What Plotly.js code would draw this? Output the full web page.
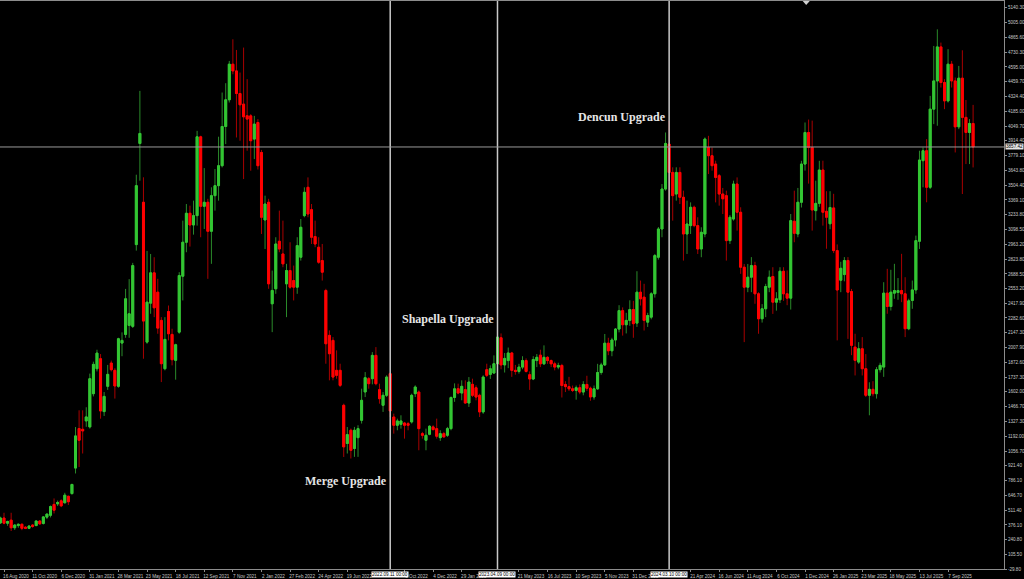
<!DOCTYPE html>
<html><head><meta charset="utf-8">
<script src="https://cdn.plot.ly/plotly-3.0.1.min.js"></script>
<style>html,body{margin:0;padding:0;background:#000;overflow:hidden}#chart{width:1024px;height:579px}</style>
</head><body><div id="chart"></div>
<script>
// Weekly ETH/USD candles, first week starting 2020-08-09
const firstWeek = '2020-08-09';
const openP = [395,440,392,420,350,370,382,355,345,375,370,412,390,448,465,565,570,598,580,640,
665,900,1264,1257,1334,1279,1585,1815,1907,1420,1653,1867,1800,1653,2051,2131,2214,2205,2958,3890,3348,
2060,2419,2698,2520,2260,1815,2342,2131,1892,2152,2667,2980,3247,3139,3225,3951,3311,3348,3081,3409,
3501,3685,4046,4292,4620,4558,4350,4252,4145,4144,3930,4083,3807,3185,3348,2413,2551,2989,2872,2597,
2719,2627,2566,2842,3225,3486,3280,3032,2934,2811,2535,2122,2076,1800,1800,1478,1126,1248,1080,1180,
1340,1601,1723,1723,1938,1622,1478,1570,1769,1370,1294,1303,1315,1309,1325,1585,1600,1217,1156,1211,
1279,1263,1180,1217,1202,1263,1550,1631,1591,1622,1499,1671,1640,1570,1417,1806,1763,1775,1861,2100,
1850,1890,1960,1800,1790,1830,1890,1760,1720,1890,1940,1860,1920,1890,1860,1830,1845,1670,1650,1630,
1615,1640,1600,1670,1635,1555,1630,1780,1850,2050,1980,2080,2180,2350,2220,2260,2360,2235,2520,2474,
2244,2290,2505,2842,3102,3470,3884,3623,3424,3623,3394,3056,3133,3302,3133,2918,3056,3853,3777,3700,
3593,3424,3409,2995,3194,3516,3256,2750,2566,2658,2765,2505,2275,2367,2566,2664,2428,2450,2713,2505,
2465,3173,3056,3348,3700,3991,3853,3271,3338,3645,3265,3150,3296,2903,2630,2682,2812,2526,2014,1876,
1999,1815,1570,1625,1585,1806,1830,2511,2388,2511,2517,2535,2505,2183,2443,2541,2989,3731,3823,3486,
4206,4466,4779,4451,4282,4620,4466,4043,4491,4130,3991,4074];
const highP = [452,488,415,488,382,390,390,365,372,382,420,420,458,480,555,620,600,612,672,645,
755,1278,1432,1432,1460,1770,1880,1990,1950,1600,1850,1890,1820,2100,2150,2550,2640,2790,3602,4374,3578,
2900,2872,2842,2643,2290,2290,2397,2183,2045,2704,3179,3332,3317,3363,4006,3961,3663,3380,3486,3654,
3952,4359,4445,4650,4849,4751,4543,4773,4482,4160,4144,4114,3830,3409,3380,2719,3026,3271,3179,2781,
2980,2765,3026,3194,3486,3577,3332,3179,3026,2964,2551,2168,2106,1984,1861,1493,1278,1264,1279,1294,
1631,1784,1738,1968,2014,1677,1600,1754,1784,1401,1355,1386,1325,1325,1585,1662,1615,1233,1263,1294,
1294,1355,1248,1233,1279,1560,1680,1677,1708,1708,1738,1723,1662,1585,1754,1861,1846,1938,2122,2140,
1960,2010,1970,1850,1860,1930,1910,1790,1930,1950,1990,2030,1930,1900,1880,1870,1860,1700,1740,1660,
1660,1670,1700,1750,1650,1660,1860,1870,2135,2100,2100,2190,2400,2380,2330,2445,2440,2713,2627,2597,
2330,2520,2872,3120,3516,3991,4098,3670,3670,3670,3455,3363,3347,3317,3210,3118,3945,3960,3853,3731,
3608,3480,3455,3230,3547,3577,3302,2780,2780,2843,2800,2520,2410,2597,2720,2750,2520,2750,2750,2720,
3240,3455,3480,3730,4083,4110,4100,3547,3730,3731,3450,3450,3426,2960,2800,2843,2843,2550,2137,2060,
2106,1950,1690,1700,1830,1870,2612,2735,2726,2781,2650,2873,2658,2460,2627,3041,3823,3853,3930,4328,
4788,4941,4819,4482,4758,4650,4497,4604,4748,4290,4114,4245];
const lowP = [385,382,368,320,330,350,328,338,338,350,365,378,380,430,445,482,550,540,575,560,
655,850,910,1034,1280,1264,1560,1790,1355,1380,1620,1790,1540,1640,1930,2100,2100,2190,2903,3547,1907,
2045,2321,2290,2137,1692,1800,2076,1846,1714,2137,2444,2888,2940,3050,3133,3026,3102,2643,2781,3271,
3363,3669,3884,4267,4527,3945,3915,3562,3823,3639,3746,3650,3056,2918,2551,2152,2505,2888,2750,2290,
2551,2444,2505,2811,3210,3210,2964,2934,2781,2627,1861,1708,1708,1723,1646,1002,1034,988,1003,1003,
1310,1554,1631,1671,1662,1493,1417,1554,1370,1217,1248,1263,1171,1248,1310,1554,1064,1171,1064,1202,
1248,1171,1150,1180,1187,1248,1510,1580,1524,1493,1463,1554,1524,1370,1400,1738,1721,1769,1815,1810,
1780,1820,1740,1760,1770,1810,1780,1620,1710,1830,1830,1850,1860,1830,1800,1810,1550,1600,1610,1600,
1530,1580,1570,1610,1520,1530,1620,1760,1840,1940,1930,2020,2150,2120,2140,2210,2100,2200,2397,2167,
2200,2270,2470,2820,3026,3455,3179,3179,3363,3332,2811,2872,3056,3118,2872,2842,3026,3608,3639,3347,
3317,3240,2811,2964,3179,3087,2689,2060,2520,2520,2413,2137,2240,2290,2520,2320,2350,2420,2440,2400,
2360,2980,3026,3300,3640,3520,3087,3180,3306,3133,2920,3100,2880,2076,2520,2620,2090,1940,1753,1860,
1753,1554,1386,1560,1540,1780,1740,2321,2351,2459,2450,2428,2106,2170,2367,2505,2918,3486,3348,3470,
4068,4053,4405,4206,4267,4405,3807,4022,3424,3700,3700,3669];
const closeP = [440,392,408,350,375,382,345,345,366,362,412,386,450,476,545,512,583,552,650,590,
749,1196,1156,1242,1371,1723,1855,1959,1426,1560,1763,1806,1656,2091,2076,2459,2321,2765,3501,3982,
2254,2428,2698,2376,2189,1861,2085,2137,1898,2036,2673,2980,3247,3139,3225,3951,3311,3348,3081,3409,
3501,3685,4046,4292,4620,4558,4350,4246,4135,4114,3915,4068,3685,3210,3332,2597,2536,2964,2918,2781,
2719,2566,2566,2949,3118,3440,3240,3026,2964,2796,2704,2045,1953,1738,1754,1662,1095,1208,1064,1248,
1263,1524,1732,1677,1938,1677,1539,1570,1738,1426,1294,1334,1334,1294,1294,1570,1646,1263,1202,1202,
1285,1254,1193,1217,1187,1263,1550,1630,1591,1653,1499,1692,1570,1554,1417,1738,1754,1815,1861,2106,
1850,1910,1960,1800,1790,1830,1890,1790,1720,1900,1920,1860,1920,1890,1860,1830,1845,1660,1650,1630,
1615,1640,1600,1670,1635,1555,1630,1780,1850,2050,1980,2080,2180,2350,2220,2260,2360,2230,2520,2459,
2260,2305,2505,2857,3102,3470,3890,3623,3409,3623,3394,3056,3148,3302,3133,2918,3072,3930,3777,3685,
3577,3424,3380,2995,3210,3516,3256,2750,2566,2658,2765,2505,2275,2367,2572,2658,2428,2459,2713,2505,
2465,3179,3062,3348,3700,3991,3853,3277,3338,3645,3256,3210,3300,2903,2540,2740,2812,2520,2030,1892,
1999,1815,1570,1625,1585,1806,1846,2511,2388,2520,2535,2535,2505,2183,2440,2541,2995,3737,3823,3486,
4206,4466,4779,4451,4282,4620,4466,4043,4491,4130,3991,4074,3857.42];
const yTickVals = [5140.30,5005.00,4865.60,4730.30,4595.00,4459.70,4324.40,4185.00,4049.70,3914.40,
3779.10,3643.80,3504.40,3369.10,3233.80,3098.50,2963.20,2823.80,2688.50,2553.20,2417.90,2282.60,
2147.30,2007.90,1872.60,1737.30,1602.00,1466.70,1327.30,1192.00,1056.70,921.40,786.10,646.70,
511.40,376.10,240.80,105.50,-29.80];
const xTickDates = ['2020-08-16','2020-10-11','2020-12-06','2021-01-31','2021-03-28','2021-05-23',
'2021-07-18','2021-09-12','2021-11-07','2022-01-02','2022-02-27','2022-04-24','2022-06-19',
'2022-10-09','2022-12-04','2023-01-29','2023-05-21','2023-07-16','2023-09-10','2023-11-05',
'2023-12-31','2024-04-21','2024-06-16','2024-08-11','2024-10-06','2024-12-01','2025-01-26',
'2025-03-23','2025-05-18','2025-07-13','2025-09-07'];
const xTickLabels = ['16 Aug 2020','11 Oct 2020','6 Dec 2020','31 Jan 2021','28 Mar 2021','23 May 2021',
'18 Jul 2021','12 Sep 2021','7 Nov 2021','2 Jan 2022','27 Feb 2022','24 Apr 2022','19 Jun 2022',
'9 Oct 2022','4 Dec 2022','29 Jan 2023','21 May 2023','16 Jul 2023','10 Sep 2023','5 Nov 2023',
'31 Dec 2023','21 Apr 2024','16 Jun 2024','11 Aug 2024','6 Oct 2024','1 Dec 2024','26 Jan 2025',
'23 Mar 2025','18 May 2025','13 Jul 2025','7 Sep 2025'];
const eventDates = ['2022-09-11','2023-04-09','2024-03-10'];
const eventNames = ['Merge Upgrade','Shapella Upgrade','Dencun Upgrade'];
const eventStamps = ['2022.09.11 00:00','2023.04.09 00:00','2024.03.10 00:00'];

const n = Math.min(openP.length, highP.length, lowP.length, closeP.length);
const DAY = 86400000, WEEK = 7*DAY;
const t0 = Date.parse(firstWeek + 'T00:00:00Z');
const dates = [];
for (let i = 0; i < n; i++) dates.push(new Date(t0 + i*WEEK).toISOString().slice(0,10));
const o = openP.slice(0,n), h = highP.slice(0,n), l = lowP.slice(0,n), c = closeP.slice(0,n);
const bodyHi = o.map((v,i)=>Math.max(v,c[i]));
const bodyLo = o.map((v,i)=>Math.min(v,c[i]));
const lastClose = c[n-1];

const pxPerWeek = 3.576, plotW = 1004;
const ref = Date.parse('2020-08-16T00:00:00Z');
const xr0 = ref - (4/pxPerWeek)*WEEK;
const xr1 = xr0 + (plotW/pxPerWeek)*WEEK;

const wicks = {type:'candlestick', x:dates, open:o, high:h, low:l, close:c, whiskerwidth:0, hoverinfo:'skip',
  increasing:{line:{color:'#2a8a2a', width:1}, fillcolor:'#2a8a2a'},
  decreasing:{line:{color:'#a80000', width:1}, fillcolor:'#a80000'}};
const bodies = {type:'candlestick', x:dates, open:o, high:bodyHi, low:bodyLo, close:c, whiskerwidth:0, hoverinfo:'skip',
  increasing:{line:{color:'#33c633', width:1}, fillcolor:'#33c633'},
  decreasing:{line:{color:'#ff0000', width:1}, fillcolor:'#ff0000'}};

const tickFont = {family:'Liberation Sans, Arial, sans-serif', size:4.6, color:'#c8c8c8'};
const shapes = eventDates.map(d=>({type:'line', xref:'x', yref:'paper', x0:d, x1:d, y0:0, y1:1,
  line:{color:'#c8c8c8', width:1.5}}));
shapes.push({type:'line', xref:'paper', yref:'y', x0:0, x1:1, y0:lastClose, y1:lastClose, line:{color:'#9a9a9a', width:1}});
shapes.push({type:'path', xref:'paper', yref:'paper', path:'M 0.7995 1 L 0.8065 1 L 0.803 0.993 Z', fillcolor:'#d0d0d0', line:{width:0}});

const labelY = [779, 2269, 4135];
const annotations = eventDates.map((d,i)=>({x:d, y:labelY[i], xref:'x', yref:'y', text:'<b>'+eventNames[i]+'</b>',
  showarrow:false, xanchor:'right', yanchor:'middle', xshift:-1,
  font:{family:'Liberation Serif, Times New Roman, serif', size:12, color:'#e6e6e6'}}));
eventDates.forEach((d,i)=>annotations.push({x:d, y:0, xref:'x', yref:'paper', text:eventStamps[i], showarrow:false,
  xanchor:'center', yanchor:'top', yshift:-2, bgcolor:'#ffffff', borderpad:0,
  font:{family:'Liberation Sans, Arial, sans-serif', size:4.6, color:'#000000'}}));
annotations.push({x:1, xref:'paper', y:lastClose, yref:'y', text:lastClose.toFixed(2), showarrow:false,
  xanchor:'left', yanchor:'middle', xshift:1, bgcolor:'#e6e6e6', borderpad:0,
  font:{family:'Liberation Sans, Arial, sans-serif', size:4.6, color:'#000000'}});

const layout = {
  width:1024, height:579, margin:{l:0, r:20, t:1, b:10, pad:0},
  paper_bgcolor:'#000000', plot_bgcolor:'#000000', showlegend:false,
  boxgap:0.45, boxgroupgap:0, boxmode:'overlay',
  xaxis:{type:'date', range:[xr0, xr1], rangeslider:{visible:false}, showgrid:false, zeroline:false,
    showline:true, linecolor:'#8c8c8c', linewidth:1, mirror:true, ticks:'outside', ticklen:2, tickcolor:'#8c8c8c',
    tickmode:'array', tickvals:xTickDates, ticktext:xTickLabels, tickfont:tickFont, tickangle:0,
    ticklabelshift:12, fixedrange:true},
  yaxis:{side:'right', range:[-29.8, 5202], showgrid:false, zeroline:false, showline:true, linecolor:'#8c8c8c',
    linewidth:1, ticks:'outside', ticklen:2, tickcolor:'#8c8c8c', tickmode:'array', tickvals:yTickVals,
    ticktext:yTickVals.map(v=>v.toFixed(2)), tickfont:tickFont, fixedrange:true},
  shapes:shapes, annotations:annotations
};
Plotly.newPlot('chart', [wicks, bodies], layout, {staticPlot:true, displayModeBar:false});
</script></body></html>
